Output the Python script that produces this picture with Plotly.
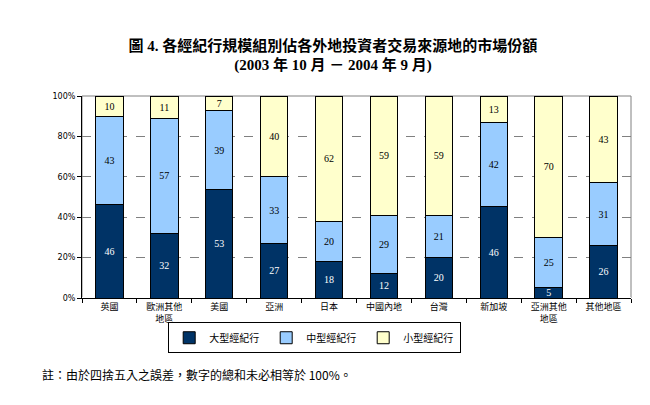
import plotly.graph_objects as go

regions = ["英國", "歐洲其他<br>地區", "美國", "亞洲", "日本", "中國內地", "台灣", "新加坡", "亞洲其他<br>地區", "其他地區"]
large = [46, 32, 53, 27, 18, 12, 20, 46, 5, 26]
medium = [43, 57, 39, 33, 20, 29, 21, 42, 25, 31]
small = [10, 11, 7, 40, 62, 59, 59, 13, 70, 43]
names = ["大型經紀行", "中型經紀行", "小型經紀行"]
colors = ["#003366", "#99CCFF", "#FFFFCC"]
text_colors = ["white", "black", "black"]

fig = go.Figure()
for vals, name, col, tc in zip([large, medium, small], names, colors, text_colors):
    fig.add_trace(go.Bar(
        x=regions, y=vals, name=name,
        marker=dict(color=col, line=dict(color="black", width=1)),
        text=vals, textposition="inside", insidetextanchor="middle", textangle=0,
        textfont=dict(family="Liberation Serif", size=10, color=tc),
    ))

# page body has an 8px margin, so margins are shifted to compensate
fig.update_layout(
    barmode="stack", barnorm="percent", bargap=0.5,
    width=650, height=405,
    margin=dict(l=74, r=27, t=88, b=115, autoexpand=False),
    paper_bgcolor="white", plot_bgcolor="white",
    uniformtext=dict(minsize=9, mode="show"),
    title=dict(
        text="<b>圖 4. 各經紀行規模組別佔各外地投資者交易來源地的市場份額<br>(2003 年 10 月 － 2004 年 9 月)</b>",
        x=0.5, xref="container", xanchor="center", y=0.895, yanchor="middle",
        font=dict(family="Liberation Serif, Noto Sans CJK TC", size=15, color="black"),
    ),
    legend=dict(
        orientation="h", x=0.157, y=-0.12, xanchor="left", yanchor="top",
        bordercolor="black", borderwidth=1,
        font=dict(family="Noto Sans CJK TC", size=10, color="black"),
        itemwidth=30, traceorder="normal",
        entrywidth=52, entrywidthmode="pixels",
        tracegroupgap=0,
    ),
    font=dict(family="Noto Sans CJK TC", color="black"),
)
fig.update_xaxes(
    showline=True, linecolor="black", linewidth=1,
    ticks="outside", tickson="boundaries", ticklen=4, tickcolor="black",
    tickfont=dict(family="Noto Sans CJK TC", size=9, color="black"),
)
fig.update_yaxes(
    range=[0, 100], dtick=20, ticksuffix="%",
    showline=True, linecolor="black", linewidth=1,
    ticks="outside", ticklen=4, tickcolor="black",
    showgrid=True, gridcolor="#808080", griddash="dash", gridwidth=1,
    tickfont=dict(family="DejaVu Sans", size=8, color="black"),
)
fig.add_shape(type="rect", xref="paper", yref="paper", x0=0, x1=1, y0=0, y1=1,
              line=dict(color="#808080", width=1), layer="below")
fig.add_annotation(
    text="註：由於四捨五入之誤差，數字的總和未必相等於 100%。",
    xref="paper", yref="paper", x=-0.0765, y=-0.381, xanchor="left", yanchor="middle",
    showarrow=False, font=dict(family="Noto Sans CJK TC", size=12, color="black"),
)

fig.write_html("out.html")
